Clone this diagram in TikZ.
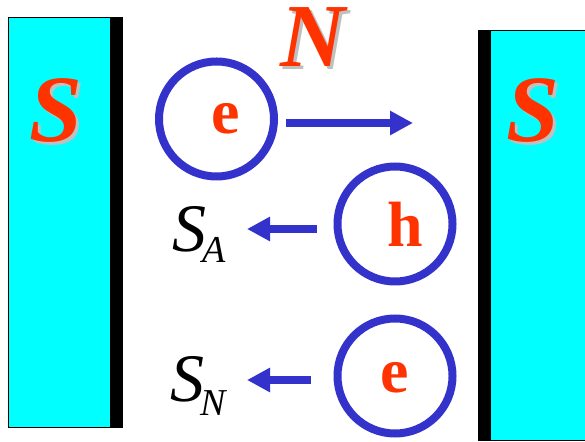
\documentclass[tikz,border=0pt]{standalone}
\usepackage{fontspec}
\setmainfont{Liberation Serif}
\usepackage{xcolor}
\usetikzlibrary{arrows.meta}
\definecolor{scred}{HTML}{FF3300}
\definecolor{qblue}{HTML}{3333CC}
\definecolor{sccyan}{HTML}{00FFFF}
\definecolor{shgray}{HTML}{C0C0C0}

\begin{document}
\begin{tikzpicture}[x=1pt, y=1pt,
    wall/.style={draw=black, line width=0.8pt, fill=sccyan},
    rim/.style={fill=black},
    bigletter/.style={inner sep=0pt, text=scred, font=\fontsize{90}{90}\selectfont\bfseries\itshape},
    ghost/.style={bigletter, text=shgray},
    particle/.style={circle, draw=qblue, line width=8pt, minimum size=115pt, inner sep=0pt},
    charge/.style={inner sep=0pt, text=scred, font=\fontsize{64}{64}\selectfont\bfseries},
    statelabel/.style={inner sep=0pt, anchor=base west, font=\fontsize{68}{68}\selectfont\itshape},
    arrow/.style={draw=qblue, line width=7.5pt, -{Triangle[length=23pt, width=23pt]}}]

    \useasboundingbox (0,0) rectangle (585,441);

    \draw[wall] (8,14) rectangle (122,424);
    \fill[rim] (110,14) rectangle (122,424);
    \draw[wall] (478,1) rectangle (585,411);
    \fill[rim] (478,1) rectangle (491,411);

    \node[ghost, font=\fontsize{95}{95}\selectfont\bfseries\itshape] (sLs) at (59,327) {S};
    \node[bigletter, font=\fontsize{95}{95}\selectfont\bfseries\itshape] (sL) at (56,330) {S};
    \node[ghost, font=\fontsize{95}{95}\selectfont\bfseries\itshape] (sRs) at (535.5,327) {S};
    \node[bigletter, font=\fontsize{95}{95}\selectfont\bfseries\itshape] (sR) at (532.5,330) {S};
    \node[ghost] (Ns) at (316,401) {N};
    \node[bigletter] (N) at (313,404) {N};

    \node[particle] (e1) at (216.5,322) {};
    \node[charge] (e1t) at (225.5,322) {e};
    \node[particle] (h) at (395,217) {};
    \node[charge] (ht) at (405,217) {h};
    \node[particle] (e2) at (395,65) {};
    \node[charge] (e2t) at (395,63) {e};

    \coordinate (out) at (413,318);
    \coordinate (hA) at (247,212);
    \coordinate (eN) at (247,61);

    \draw[arrow, shorten <=8pt] (e1.east |- out) -- (out);
    \draw[arrow, shorten <=17pt] (h.west |- hA) -- (hA);
    \draw[arrow, shorten <=23pt] (e2.west |- eN) -- (eN);

    \node[statelabel] (SA) at (172,189) {S\kern-4pt\raisebox{-11pt}{\fontsize{38}{38}\selectfont A}};
    \node[statelabel] (SN) at (170,39) {S\kern-4pt\raisebox{-13pt}{\fontsize{38}{38}\selectfont N}};

\end{tikzpicture}
\end{document}
